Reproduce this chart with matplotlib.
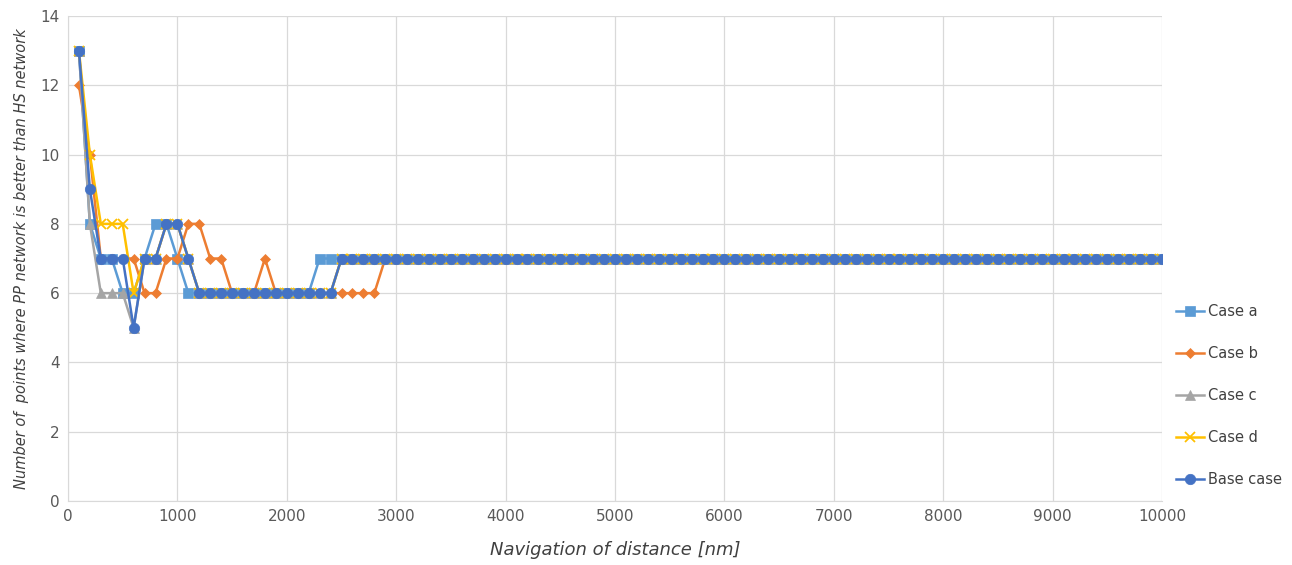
import numpy as np
import matplotlib.pyplot as plt

# navigation distance, 100 nm steps
distance = np.arange(100, 10001, 100)

case_a = [13, 8, 7, 7, 6, 6, 7, 8, 8, 7] + [6] * 12 + [7] * 78
case_b = [12, 10, 7, 7, 7, 7, 6, 6, 7, 7, 8, 8, 7, 7, 6, 6, 6, 7] + [6] * 10 + [7] * 72
case_c = [13, 8, 6, 6, 6, 5, 7, 7, 8, 8, 7] + [6] * 13 + [7] * 76
case_d = [13, 10, 8, 8, 8, 6, 7, 7, 8, 8, 7] + [6] * 13 + [7] * 76
base_case = [13, 9, 7, 7, 7, 5, 7, 7, 8, 8, 7] + [6] * 13 + [7] * 76

series = [
    ("Case a", case_a, "#5B9BD5", "s", 7.5),
    ("Case b", case_b, "#ED7D31", "D", 5.5),
    ("Case c", case_c, "#A5A5A5", "^", 7),
    ("Case d", case_d, "#FFC000", "x", 7),
    ("Base case", base_case, "#4472C4", "o", 7.5),
]

fig = plt.figure(figsize=(12.92, 5.65), dpi=100)
ax = fig.add_axes([68 / 1292, 64 / 565, 1094 / 1292, 485 / 565])

for name, vals, col, mk, ms in series:
    ax.plot(distance, vals, color=col, marker=mk, markersize=ms, linewidth=1.8,
            markeredgewidth=1.3 if mk == "x" else 0.5, markeredgecolor=col, label=name)

ax.set_xlim(0, 10000)
ax.set_ylim(0, 14)
ax.set_xticks(np.arange(0, 10001, 1000))
ax.set_yticks(np.arange(0, 15, 2))
ax.grid(True, color="#D9D9D9", linewidth=0.9)
ax.set_axisbelow(True)
ax.tick_params(length=0, labelsize=11, colors="#595959", pad=6)
for s in ["top", "right"]:
    ax.spines[s].set_visible(False)
for s in ["left", "bottom"]:
    ax.spines[s].set_color("#D9D9D9")

ax.set_xlabel("Navigation of distance [nm]", fontsize=13, style="italic", color="#404040", labelpad=12)
ax.set_ylabel("Number of  points where PP network is better than HS network", fontsize=10.5,
              style="italic", color="#404040", labelpad=8)

fig.legend(loc="upper left", bbox_to_anchor=(1166 / 1292, 1 - 294 / 565), frameon=False,
           fontsize=10.5, labelspacing=1.85, handlelength=1.9, handletextpad=0.25,
           borderpad=0.2, labelcolor="#404040")

fig.savefig("out.png", dpi=100)
